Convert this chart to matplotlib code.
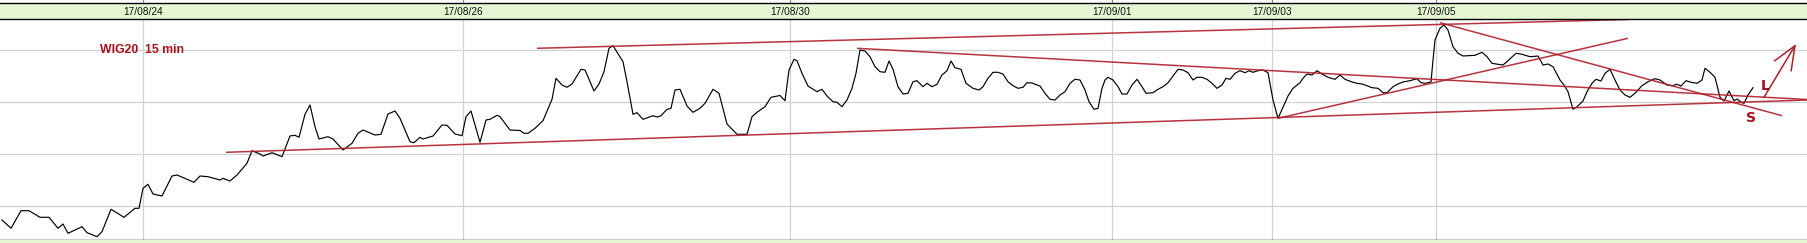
import matplotlib.pyplot as plt
from matplotlib.patches import FancyArrowPatch

W, H, DPI = 1807, 243, 100

# WIG20 15 min trace: x = position along the time axis, y = level above chart bottom
price_x = [2, 11, 21, 29, 40, 49, 58, 63, 68, 82, 87, 97, 102, 111, 124, 135, 139, 143, 148, 153,
           162, 172, 177, 194, 200, 208, 220, 223, 230, 237, 247, 252, 260,
           263, 272, 282, 290, 295, 299, 305, 310, 315, 319, 328, 333, 343, 352, 358, 363, 375,
           381, 388, 395, 400, 410, 414, 420, 423, 433, 442, 447, 455, 462, 466, 471, 480, 486,
           490, 497, 500, 510, 520,
           524, 528, 535, 543, 552, 556, 562, 567, 572, 581, 585, 594, 599, 604, 609, 613, 623,
           627, 633, 637, 643, 653, 657, 661, 667, 671, 675, 680, 687, 693, 700, 705, 713, 719,
           727, 737, 747, 752, 757, 765, 771, 780,
           785, 789, 794, 797, 802, 808, 817, 822, 827, 833, 837, 842, 847, 852, 856, 860, 865,
           870, 875, 880, 885, 889, 893, 898, 903, 908, 913, 917, 923, 927, 932, 937, 942, 947,
           951, 955, 961, 966, 973, 979, 983, 988, 993, 998, 1003, 1008, 1013, 1018, 1023, 1027,
           1032, 1037, 1040,
           1045, 1050, 1055, 1060, 1065, 1070, 1075, 1080, 1085, 1089, 1094, 1098, 1102, 1105,
           1108, 1113, 1118, 1122, 1127, 1132, 1137, 1142, 1146, 1153, 1158, 1163, 1168, 1173,
           1178, 1183, 1188, 1193, 1197, 1202, 1207, 1212, 1217, 1222, 1226, 1230, 1235, 1240,
           1245, 1249, 1253, 1258, 1263, 1268, 1273, 1278, 1283, 1288, 1293, 1300,
           1303, 1307, 1312, 1317, 1322, 1328, 1335, 1340, 1345, 1352, 1357, 1362, 1367, 1372,
           1378, 1383, 1387, 1393, 1398, 1403, 1410, 1417, 1421, 1425, 1431, 1433, 1435, 1440,
           1444, 1448, 1453, 1458, 1463, 1468, 1475, 1482, 1487, 1492, 1498, 1503, 1508, 1516,
           1522, 1530, 1538, 1543, 1548, 1553, 1560,
           1564, 1568, 1573, 1577, 1583, 1587, 1592, 1596, 1601, 1605, 1610, 1615, 1620, 1625,
           1630, 1635, 1642, 1648, 1655, 1660, 1667, 1672, 1677, 1681, 1686, 1691, 1697, 1702,
           1705, 1710, 1715, 1720, 1724, 1729, 1734, 1737, 1742, 1744, 1748, 1753]
price_y = [20, 11.7, 29.3, 29.3, 22.7, 22.7, 11.7, 16, 6.7, 13.3, 7.3, 3.3, 8.3, 30.7, 22.7, 31.7,
           31.7, 51.7, 55.7, 46, 44, 64, 65, 57.7, 64, 63.3, 60, 61.7, 59, 65, 76.7, 89.3, 86,
           84, 87.3, 83.3, 104, 104.7, 102.7, 125.7, 135, 113.3, 101, 103.3, 101, 90, 96.7, 106.7,
           110, 105, 105.7, 126, 129, 121.7, 98.3, 97.3, 102.7, 101, 104, 115, 114.7, 106, 104.3,
           123.3, 129, 97.7, 120, 120.7, 124.7, 123.3, 110, 109.5,
           106.7, 106.7, 111.7, 119.3, 140.7, 161.7, 155, 152.7, 156, 170.7, 170, 149, 156, 168.3,
           191.7, 194.3, 178.3, 158.3, 125.7, 127.3, 120.7, 124.3, 123, 124.3, 130.7, 131.7, 150,
           150.7, 134, 127.7, 131.7, 136.7, 150.7, 146.7, 116, 105.7, 105.7, 123.3, 127.7, 133.3,
           142.7, 144.5,
           139.3, 170, 180.7, 179.3, 166.7, 154, 148.3, 150.7, 144, 138.3, 137.7, 133.3, 140,
           151.7, 166.7, 190, 189, 183.3, 173.3, 168.3, 167.7, 179, 170.7, 153.3, 146, 146.7,
           158.3, 159.3, 153.3, 156.7, 153.3, 155.7, 165, 169.3, 179, 172.3, 170.7, 156.7, 151.7,
           150, 153.3, 161.7, 167.7, 167.7, 166, 158.3, 154.3, 151.7, 152.7, 157.3, 157, 155, 154,
           146.7, 140.7, 140, 145, 148.3, 156.7, 160.7, 160, 150, 138.3, 130.7, 131.7, 151.7, 160,
           162.7, 160, 153.3, 146, 146, 155, 160.7, 153.3, 146.7, 147.3, 150.7, 153.3, 157.3, 164,
           170.7, 170, 167.3, 160, 162.7, 162.7, 160.7, 156.7, 151.7, 155, 161.7, 160.7, 166.7,
           169.3, 167.3, 169.3, 167.7, 169.3, 170, 167.3, 140, 121.7, 132.7, 144, 151.7, 157.3,
           161.7, 166, 165, 169.3, 166, 162.7, 160.7, 165, 160.7, 158, 156.7, 156, 154.3, 152.3,
           151.7, 147.3, 147.3, 153.3, 156, 158, 159.3, 161.3, 157.3, 156.7, 158, 180, 200, 211.7,
           215, 210, 193.3, 186.7, 184, 184.3, 184.7, 187.7, 183.3, 176.7, 175.7, 175, 179.3,
           186.7, 185.7, 183.3, 184, 175, 176, 173.3, 160,
           155, 148.3, 130.7, 133.3, 139, 148.3, 156.7, 160.7, 159, 166.7, 170.7, 160, 150, 145,
           142.7, 146.7, 154.3, 158.3, 161.3, 160, 155, 154.3, 155.7, 154, 159.3, 157.7, 156.7,
           160, 171.7, 167.7, 162.7, 142.7, 139, 149, 139.3, 141, 137.3, 136.7, 145, 152.3]

date_labels = ["17/08/24", "17/08/26", "17/08/30", "17/09/01", "17/09/03", "17/09/05"]
date_pos = [143, 463, 790, 1112, 1272, 1436]

grid_levels = [33.7, 85.7, 137.7, 189.7]

# hand drawn trend lines: start and end points
trend_x0 = [226, 537, 857, 1278, 1440]
trend_y0 = [87.7, 191.7, 191.7, 121.7, 217.3]
trend_x1 = [1807, 1627, 1807, 1628, 1782]
trend_y1 = [140.0, 220.5, 140.5, 201.7, 124.3]

# long signal arrow
arrow_from = (1764, 142.7)
arrow_to = (1796, 196)

RED = "#b01e2a"
TEXT_RED = "#a8101c"
GREEN = "#e6f6d3"
GRID = "#d2d2d2"

fig = plt.figure(figsize=(W / DPI, H / DPI), dpi=DPI)
fig.patch.set_facecolor("white")

# main chart area: rows 19..240 px
ax = fig.add_axes([0, 3 / H, 1, 221 / H])
ax.set_xlim(0, W)
ax.set_ylim(0, 221)
for lvl in grid_levels:
    ax.axhline(lvl, color=GRID, lw=0.9, zorder=1)
for xp in date_pos:
    ax.axvline(xp, color=GRID, lw=0.9, zorder=1)

ax.plot(price_x, price_y, color="black", lw=0.85, zorder=3)

for x0, y0, x1, y1 in zip(trend_x0, trend_y0, trend_x1, trend_y1):
    ax.plot([x0, x1], [y0, y1], color=RED, lw=1.1, alpha=0.9, zorder=4,
            solid_capstyle="butt")

arr = FancyArrowPatch(arrow_from, arrow_to, arrowstyle="->,head_length=1.7,head_width=0.7",
                      mutation_scale=10, color=RED, lw=1.1, shrinkA=0, shrinkB=0, zorder=4)
ax.add_patch(arr)

ax.text(100, 189.7, "WIG20  15 min", color=TEXT_RED, fontsize=8.8, fontweight="bold",
        family="Liberation Sans", ha="left", va="center", zorder=5)
ax.text(1765, 153.5, "L", color=TEXT_RED, fontsize=10, fontweight="bold",
        family="DejaVu Sans", ha="center", va="center", zorder=5)
ax.text(1751, 122, "S", color=TEXT_RED, fontsize=10, fontweight="bold",
        family="DejaVu Sans", ha="center", va="center", zorder=5)

ax.set_xticks([])
ax.set_yticks([])
for side in ["left", "right", "top"]:
    ax.spines[side].set_visible(False)
ax.spines["bottom"].set_color("black")
ax.spines["bottom"].set_linewidth(1.0)

# date header band: rows 3.5..19 px
hx = fig.add_axes([0, (H - 19) / H, 1, 15.5 / H])
hx.set_facecolor(GREEN)
hx.set_xlim(0, W)
hx.set_ylim(0, 1)
for xp, lab in zip(date_pos, date_labels):
    hx.text(xp, 0.45, lab, fontsize=7.3, family="Liberation Sans", color="#111111",
            ha="center", va="center")
hx.set_xticks([])
hx.set_yticks([])
for side in ["left", "right"]:
    hx.spines[side].set_visible(False)
for side in ["top", "bottom"]:
    hx.spines[side].set_color("black")
    hx.spines[side].set_linewidth(1.0)

# small tick marks above the header
tx = fig.add_axes([0, (H - 3.5) / H, 1, 3.5 / H])
tx.set_xlim(0, W)
tx.set_ylim(0, 1)
for xp in date_pos:
    tx.axvline(xp, color="#888888", lw=0.9)
tx.axis("off")

# thin green strip under the chart
bx = fig.add_axes([0, 0, 1, 3 / H])
bx.set_facecolor(GREEN)
bx.set_xticks([])
bx.set_yticks([])
for side in bx.spines.values():
    side.set_visible(False)

fig.savefig("out.png", dpi=DPI)
